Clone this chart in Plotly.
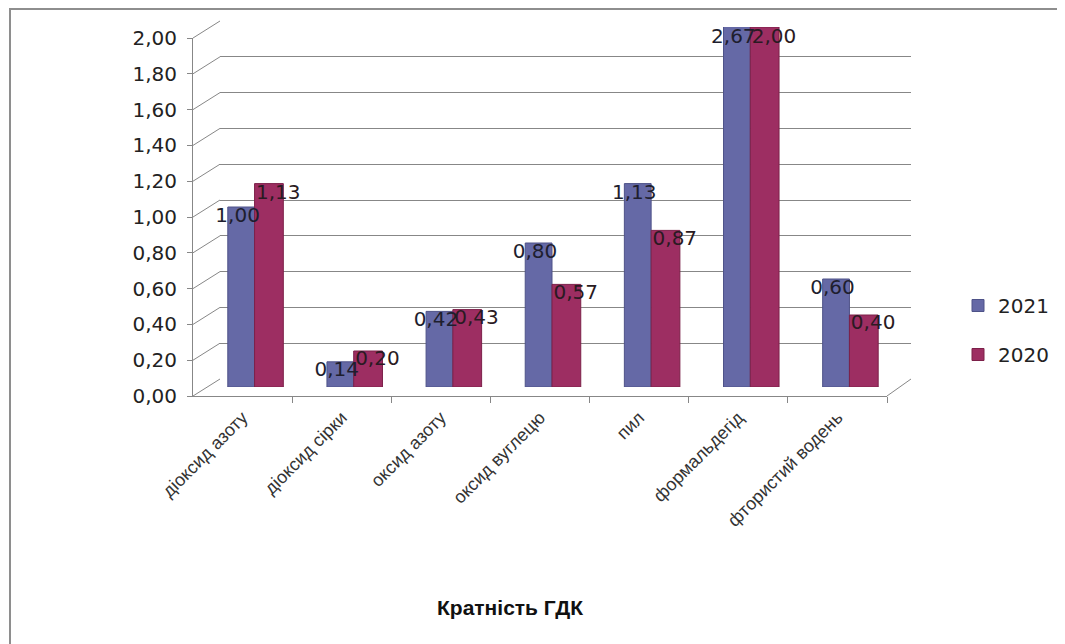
import plotly.graph_objects as go

categories = ["діоксид азоту", "діоксид сірки", "оксид азоту", "оксид вуглецю",
              "пил", "формальдегід", "фтористий водень"]
values_2021 = [1.00, 0.14, 0.42, 0.80, 1.13, 2.67, 0.60]
values_2020 = [1.13, 0.20, 0.43, 0.57, 0.87, 2.00, 0.40]
series_names = ["2021", "2020"]
y_max = 2.0
y_step = 0.2
title_text = "Кратність ГДК"

W, H = 1065, 644
OFF = 8  # page body margin
def px_x(p):
    return (p - OFF) / W
def px_y(p):
    return 1 - (p - OFF) / H

# domains (front face, back wall, bar depth)
front_x = [px_x(193), px_x(887)]
front_y = [px_y(396), px_y(38)]
back_x = [px_x(220), px_x(911)]
back_y = [px_y(379), px_y(21)]
mid_x = [px_x(205), px_x(899)]
mid_y = [px_y(387), px_y(27)]

BLUE = "#6569a6"
RED = "#9d2e62"
GRID = "#878787"
n = len(categories)
idx = list(range(n))
xr = [-0.5, n - 0.5]
ticks = [round(k * y_step, 2) for k in range(int(round(y_max / y_step)) + 1)]

fig = go.Figure()

# back wall subplot (x/y) – carries the gridlines
fig.add_trace(go.Scatter(x=[0], y=[0], mode="markers", marker=dict(opacity=0),
                         xaxis="x", yaxis="y", showlegend=False, hoverinfo="skip"))

# bars on the mid-depth axes (x2/y2)
fig.add_trace(go.Bar(x=idx, y=values_2021, name=series_names[0], offset=-0.27, width=0.27,
                     marker=dict(color=BLUE, line=dict(color="#4e5288", width=1)),
                     xaxis="x2", yaxis="y2", legendgroup="a", hoverinfo="skip"))
fig.add_trace(go.Bar(x=idx, y=values_2020, name=series_names[1], offset=0.0, width=0.29,
                     marker=dict(color=RED, line=dict(color="#7c2049", width=1)),
                     xaxis="x2", yaxis="y2", legendgroup="b", hoverinfo="skip"))

def fmt(v):
    return f"{v:.2f}".replace(".", ",")

# data labels on the front axes (x3/y3)
fig.add_trace(go.Scatter(x=[i - 0.05 for i in idx], y=[min(v, y_max) for v in values_2021],
                         text=[fmt(v) for v in values_2021], mode="text",
                         textfont=dict(family="DejaVu Sans", size=20, color="#1e1e2e"),
                         textposition="middle center", showlegend=False, cliponaxis=False,
                         xaxis="x3", yaxis="y3", hoverinfo="skip"))
fig.add_trace(go.Scatter(x=[i + 0.36 for i in idx], y=[min(v, y_max) for v in values_2020],
                         text=[fmt(v) for v in values_2020], mode="text",
                         textfont=dict(family="DejaVu Sans", size=20, color="#2a1a22"),
                         textposition="middle center", showlegend=False, cliponaxis=False,
                         xaxis="x3", yaxis="y3", hoverinfo="skip"))

# left wall diagonal lines & right floor edge
shapes = []
for t in ticks:
    yf = front_y[0] + t / y_max * (front_y[1] - front_y[0])
    yb = back_y[0] + t / y_max * (back_y[1] - back_y[0])
    shapes.append(dict(type="line", xref="paper", yref="paper", x0=front_x[0], y0=yf,
                       x1=back_x[0], y1=yb, line=dict(color=GRID, width=1)))
shapes.append(dict(type="line", xref="paper", yref="paper", x0=front_x[1], y0=front_y[0],
                   x1=back_x[1], y1=back_y[0], line=dict(color=GRID, width=1)))
# outer chart border
shapes.append(dict(type="rect", xref="paper", yref="paper", x0=px_x(10), y0=-0.05,
                   x1=1.05, y1=px_y(9), line=dict(color="#8e8e8e", width=2)))

fig.update_layout(
    template="none",
    width=W, height=H,
    margin=dict(l=0, r=0, t=0, b=0, pad=0),
    paper_bgcolor="white", plot_bgcolor="rgba(0,0,0,0)",
    separators=", ",
    barmode="overlay",
    showlegend=True,
    legend=dict(x=px_x(958), y=px_y(330), xanchor="left", yanchor="middle",
                font=dict(family="DejaVu Sans", size=20, color="#222"),
                tracegroupgap=20, bgcolor="rgba(0,0,0,0)"),
    # back wall
    xaxis=dict(domain=back_x, range=xr, showgrid=False, showticklabels=False, zeroline=False,
               showline=False, ticks="", anchor="y", automargin=False),
    yaxis=dict(domain=back_y, range=[0, y_max], tickvals=ticks, showgrid=True, gridcolor=GRID,
               gridwidth=1, showticklabels=False, zeroline=False, showline=False, ticks="",
               anchor="x", automargin=False),
    # bars
    xaxis2=dict(domain=mid_x, range=xr, visible=False, anchor="y2", automargin=False),
    yaxis2=dict(domain=mid_y, range=[0, y_max], visible=False, anchor="x2", automargin=False),
    # front axes
    xaxis3=dict(domain=front_x, range=xr, anchor="y3", showgrid=False, zeroline=False,
                showline=True, linecolor=GRID, linewidth=1, automargin=False,
                tickvals=idx, ticktext=categories, ticks="", tickangle=-45,
                ticklabelstandoff=3,
                tickfont=dict(family="Liberation Sans", size=18, color="#333"),
                minor=dict(tickvals=[i + 0.5 for i in idx], ticks="outside", ticklen=6,
                           tickcolor=GRID, showgrid=False)),
    yaxis3=dict(domain=front_y, range=[0, y_max], anchor="x3", tickvals=ticks,
                tickformat=".2f", showgrid=False, zeroline=False, showline=True,
                linecolor=GRID, linewidth=1, ticks="outside", ticklen=5, tickcolor=GRID,
                ticklabelstandoff=6, automargin=False,
                tickfont=dict(family="DejaVu Sans", size=20, color="#222")),
    shapes=shapes,
    annotations=[dict(text="<b>" + title_text + "</b>", xref="paper", yref="paper",
                      x=px_x(510), y=px_y(621), showarrow=False,
                      font=dict(family="Liberation Sans", size=21, color="#111"))],
)

fig.write_html("out.html")
